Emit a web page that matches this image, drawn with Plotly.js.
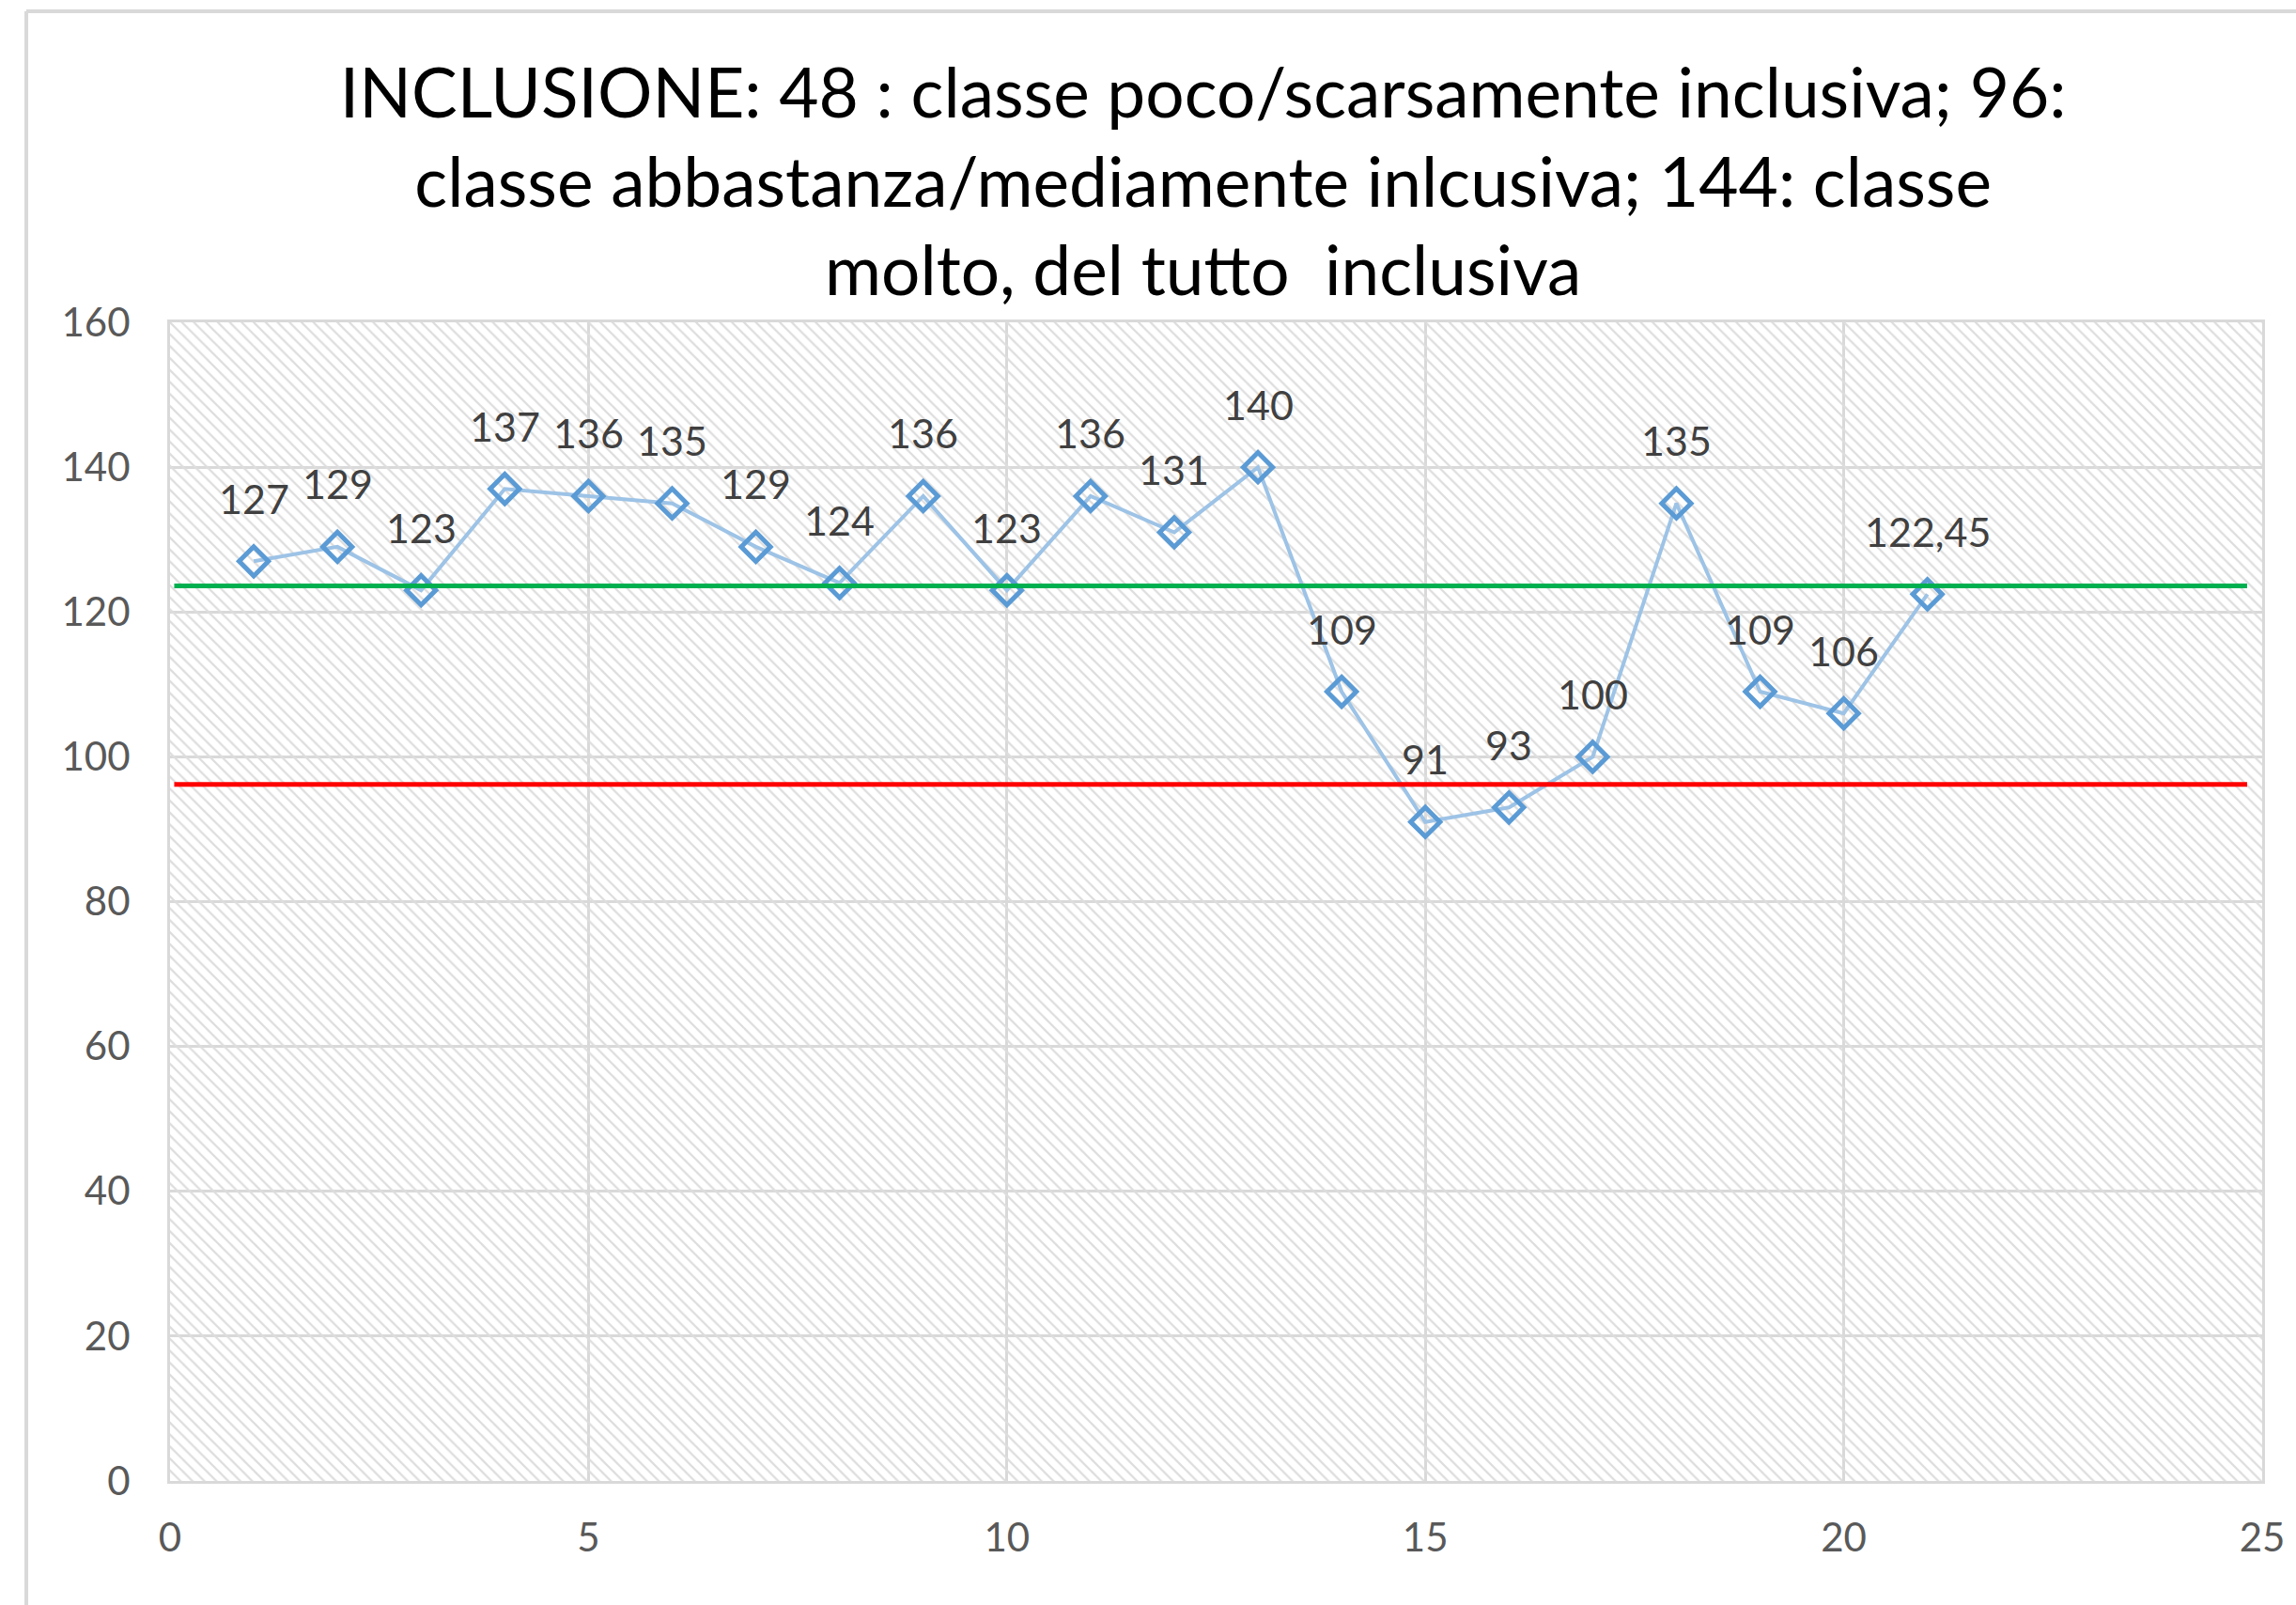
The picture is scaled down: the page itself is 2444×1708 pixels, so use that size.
<!DOCTYPE html>
<html>
<head>
<meta charset="utf-8">
<script src="https://cdn.plot.ly/plotly-3.0.1.min.js"></script>
<style>
  html, body { margin: 0; padding: 0; background: #ffffff; }
  #chart { width: 2444px; height: 1708px; }
</style>
</head>
<body>
<div id="chart"></div>
<script>
// ---- data ----
const chartTitle = 'INCLUSIONE: 48 : classe poco/scarsamente inclusiva; 96:<br>classe abbastanza/mediamente inlcusiva; 144: classe<br>molto, del tutto  inclusiva';
const xValues = [1, 2, 3, 4, 5, 6, 7, 8, 9, 10, 11, 12, 13, 14, 15, 16, 17, 18, 19, 20, 21];
const yValues = [127, 129, 123, 137, 136, 135, 129, 124, 136, 123, 136, 131, 140, 109, 91, 93, 100, 135, 109, 106, 122.45];
const labelTexts = yValues.map(v => String(v).replace('.', ','));
const xRange = [0, 25];
const yRange = [0, 160];
const xTickStep = 5;
const yTickStep = 20;
const thresholdLevels = [123.6, 96.2];
const thresholdColors = ['#00B050', '#FF0000'];

// ---- styling ----
const fontFamily = 'Lato, "Open Sans", sans-serif';
const gridColor = '#d9d9d9';

const hatchTrace = {
  x: [xRange[0], xRange[1], xRange[1], xRange[0], xRange[0]],
  y: [yRange[0], yRange[0], yRange[1], yRange[1], yRange[0]],
  mode: 'none',
  fill: 'toself',
  fillcolor: 'rgba(0,0,0,0)',
  fillpattern: { shape: '\\', fgcolor: '#dddddd', bgcolor: 'rgba(0,0,0,0)', size: 9, solidity: 0.25 },
  hoverinfo: 'skip',
  showlegend: false
};

const seriesTrace = {
  x: xValues,
  y: yValues,
  mode: 'lines+markers',
  line: { color: '#9DC3E6', width: 4 },
  marker: { symbol: 'diamond-open', size: 24, color: '#5B9BD5', line: { color: '#5B9BD5', width: 5 } },
  showlegend: false,
  hoverinfo: 'x+y'
};

const labelAnnotations = xValues.map((x, i) => ({
  x: x, y: yValues[i], xref: 'x', yref: 'y',
  text: labelTexts[i], showarrow: false,
  xanchor: 'center', yanchor: 'middle', yshift: 67,
  font: { family: fontFamily, size: 43, color: '#404040' }
}));

const thresholdShapes = thresholdLevels.map((lv, i) => ({
  type: 'line', xref: 'paper', yref: 'y',
  x0: 0.002, x1: 0.9928, y0: lv, y1: lv,
  line: { color: thresholdColors[i], width: 5 },
  layer: 'above'
}));

const borderShapes = [
  { type: 'line', xref: 'paper', yref: 'paper', x0: -0.0687, x1: -0.0687, y0: -0.2, y1: 1.2685, line: { color: gridColor, width: 4 } },
  { type: 'line', xref: 'paper', yref: 'paper', x0: -0.0687, x1: 1.2, y0: 1.2685, y1: 1.2685, line: { color: gridColor, width: 4 } }
];

const layout = {
  width: 2444,
  height: 1708,
  margin: { l: 181, r: 36, t: 343, b: 132, pad: 0 },
  paper_bgcolor: '#ffffff',
  plot_bgcolor: '#ffffff',
  showlegend: false,
  title: {
    text: chartTitle,
    font: { family: fontFamily, size: 73, color: '#000000' },
    x: 0.524, xref: 'container', xanchor: 'center',
    y: 0.927, yref: 'container', yanchor: 'middle'
  },
  xaxis: {
    range: xRange,
    dtick: xTickStep, tick0: 0,
    showgrid: true, gridcolor: gridColor, gridwidth: 3,
    zeroline: false,
    showline: true, linecolor: gridColor, linewidth: 3, mirror: true,
    ticks: 'outside', ticklen: 22, tickcolor: 'rgba(0,0,0,0)',
    tickfont: { family: fontFamily, size: 42, color: '#595959' }
  },
  yaxis: {
    range: yRange,
    dtick: yTickStep, tick0: 0,
    showgrid: true, gridcolor: gridColor, gridwidth: 3,
    zeroline: false,
    showline: true, linecolor: gridColor, linewidth: 3, mirror: true,
    ticks: 'outside', ticklen: 31, tickcolor: 'rgba(0,0,0,0)',
    tickfont: { family: fontFamily, size: 42, color: '#595959' }
  },
  annotations: labelAnnotations,
  shapes: borderShapes.concat(thresholdShapes)
};

Plotly.newPlot('chart', [hatchTrace, seriesTrace], layout, { displayModeBar: false, staticPlot: true });
</script>
</body>
</html>
